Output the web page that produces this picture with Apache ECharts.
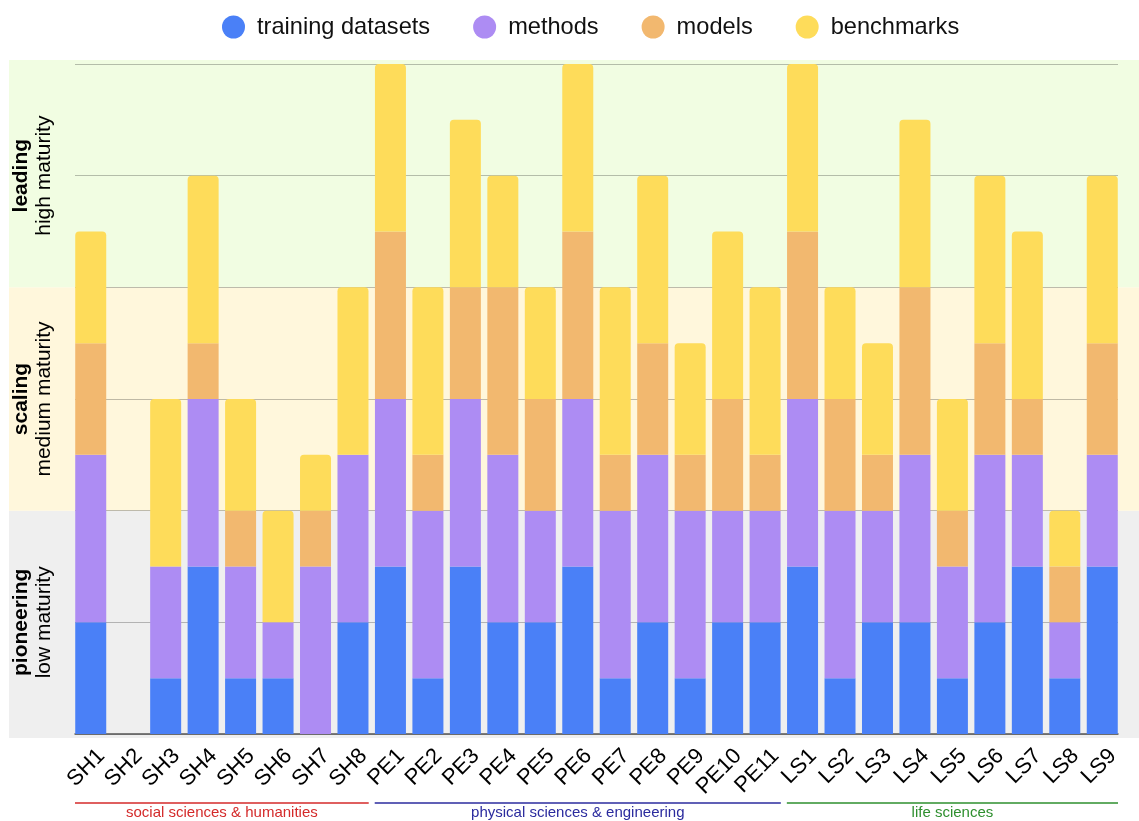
<!DOCTYPE html>
<html><head><meta charset="utf-8">
<script src="https://cdn.jsdelivr.net/npm/echarts@6/dist/echarts.min.js"></script>
<style>html,body{margin:0;padding:0;background:#fff}#c{width:1139px;height:821px}</style>
</head><body><div id="c"></div>
<script>
const categories = ['SH1','SH2','SH3','SH4','SH5','SH6','SH7','SH8','PE1','PE2','PE3','PE4','PE5','PE6','PE7','PE8','PE9','PE10','PE11','LS1','LS2','LS3','LS4','LS5','LS6','LS7','LS8','LS9'];
const trainingDatasets = [1,0,0.5,1.5,0.5,0.5,0,1, 1.5,0.5,1.5,1,1,1.5,0.5,1,0.5,1,1, 1.5,0.5,1,1,0.5,1,1.5,0.5,1.5];
const methods          = [1.5,0,1,1.5,1,0.5,1.5,1.5, 1.5,1.5,1.5,1.5,1,1.5,1.5,1.5,1.5,1,1, 1.5,1.5,1,1.5,1,1.5,1,0.5,1];
const models           = [1,0,0,0.5,0.5,0,0.5,0, 1.5,0.5,1,1.5,1,1.5,0.5,1,0.5,1,0.5, 1.5,1,0.5,1.5,0.5,1,0.5,0.5,1];
const benchmarks       = [1,0,1.5,1.5,1,1,0.5,1.5, 1.5,1.5,1.5,1,1,1.5,1.5,1.5,1,1.5,1.5, 1.5,1,1,1.5,1,1.5,1.5,0.5,1.5];
const seriesNames = ['training datasets','methods','models','benchmarks'];
const seriesColors = ['#4a80f7','#ad8cf3','#f2b86f','#fedc5a'];
const maturityLevels = [[1,'pioneering','low maturity'],[3,'scaling','medium maturity'],[5,'leading','high maturity']];
const bandRanges = [[0,2],[2,4],[4,6]];
const bandColors = ['#efefef','#fff7dc','#f1fde2'];
const groups = [[0,7,'social sciences & humanities'],[8,18,'physical sciences & engineering'],[19,27,'life sciences']];
const groupColors = ['#d42a2a','#2b2b9e','#2e8f2e'];
const yMax = 6;

const FONT = '"Liberation Sans", Arial, sans-serif';
const allSeries = [trainingDatasets, methods, models, benchmarks];

// top non-zero segment index per category, for rounded top corners
const topIdx = categories.map((c, i) => {
  let t = -1;
  allSeries.forEach((s, k) => { if (s[i] > 0) t = k; });
  return t;
});

const barSeries = allSeries.map((vals, k) => ({
  name: seriesNames[k],
  type: 'bar',
  stack: 'total',
  xAxisIndex: 0, yAxisIndex: 0,
  barWidth: 31,
  z: 3,
  itemStyle: { color: seriesColors[k] },
  data: vals.map((v, i) => topIdx[i] === k ? { value: v, itemStyle: { borderRadius: [4,4,0,0] } } : v)
}));

const option = {
  animation: false,
  textStyle: { fontFamily: FONT },
  legend: {
    data: seriesNames,
    left: 217, top: 10,
    icon: 'circle',
    itemWidth: 37, itemHeight: 23, itemGap: 43,
    textStyle: { fontSize: 23.6, color: '#111', fontFamily: FONT }
  },
  grid: [
    { left: 72, right: 18, top: 64, bottom: 87 },   // bars
    { left: 75, right: 21, top: 64, bottom: 87 },   // gridlines
    { left: 9, right: 0, top: 64, bottom: 87 },     // background bands
    { left: 72, right: 18, top: 800, height: 3 }    // group labels
  ],
  xAxis: [
    { gridIndex: 0, type: 'category', data: categories,
      axisLine: { show: false }, axisTick: { show: false },
      axisLabel: { interval: 0, rotate: 45, fontSize: 22, color: '#000', fontFamily: FONT,
                   align: 'right', verticalAlign: 'top', padding: [4,0,0,0], margin: 8 } },
    { gridIndex: 1, type: 'value', min: 0, max: 1, show: true,
      axisLine: { show: true, lineStyle: { color: '#555', width: 1.5 } },
      axisTick: { show: false }, axisLabel: { show: false }, splitLine: { show: false } },
    { gridIndex: 2, type: 'value', min: 0, max: 1, show: false },
    { gridIndex: 3, type: 'value', min: -0.5, max: categories.length - 0.5, show: false }
  ],
  yAxis: [
    { gridIndex: 0, type: 'value', min: 0, max: yMax, interval: 1,
      axisLine: { show: false }, axisTick: { show: false }, splitLine: { show: false },
      axisLabel: {
        rotate: 90, margin: 16, align: 'center', verticalAlign: 'bottom',
        formatter: v => { const m = maturityLevels.find(l => l[0] === v); return m ? '{b|' + m[1] + '}\n{n|' + m[2] + '}' : ''; },
        rich: {
          b: { fontWeight: 'bold', fontSize: 21, lineHeight: 23, color: '#000', fontFamily: FONT },
          n: { fontSize: 21, lineHeight: 23, color: '#000', fontFamily: FONT }
        }
      } },
    { gridIndex: 1, type: 'value', min: 0, max: yMax, interval: 1,
      axisLine: { show: false }, axisTick: { show: false }, axisLabel: { show: false },
      splitLine: { show: true, lineStyle: { color: 'rgba(0,0,0,0.25)', width: 1.2 } } },
    { gridIndex: 2, type: 'value', min: 0, max: yMax, show: false },
    { gridIndex: 3, type: 'value', min: 0, max: 1, show: false }
  ],
  series: [
    {
      type: 'custom', xAxisIndex: 2, yAxisIndex: 2, z: -10, silent: true,
      data: bandRanges,
      renderItem: (params, api) => {
        const cs = params.coordSys;
        const lo = api.value(0), hi = api.value(1);
        let yTop = api.coord([0, hi])[1], yBot = api.coord([0, lo])[1];
        if (hi >= yMax) yTop -= 4;
        if (lo <= 0) yBot += 4;
        return { type: 'rect', shape: { x: cs.x, y: yTop, width: cs.width, height: yBot - yTop },
                 style: { fill: bandColors[params.dataIndex] } };
      }
    },
    // dummy series so gridline grid exists with its axes
    { type: 'line', xAxisIndex: 1, yAxisIndex: 1, data: [], silent: true },
    ...barSeries,
    {
      type: 'custom', xAxisIndex: 3, yAxisIndex: 3, silent: true,
      data: groups.map(g => [g[0], g[1]]),
      renderItem: (params, api) => {
        const i = params.dataIndex;
        const p0 = api.coord([api.value(0) - 0.5, 0]);
        const p1 = api.coord([api.value(1) + 0.5, 0]);
        const color = groupColors[i];
        return { type: 'group', children: [
          { type: 'line', shape: { x1: p0[0] + 3, y1: p0[1], x2: p1[0] - 3, y2: p1[1] },
            style: { stroke: color, lineWidth: 1.5 } },
          { type: 'text', x: (p0[0] + p1[0]) / 2, y: p0[1] + 10,
            style: { text: groups[i][2], fill: color, fontSize: 15, fontFamily: FONT,
                     align: 'center', verticalAlign: 'middle' } }
        ] };
      }
    }
  ]
};

const chart = echarts.init(document.getElementById('c'), null, { renderer: 'canvas' });
chart.setOption(option);
</script>
</body></html>
